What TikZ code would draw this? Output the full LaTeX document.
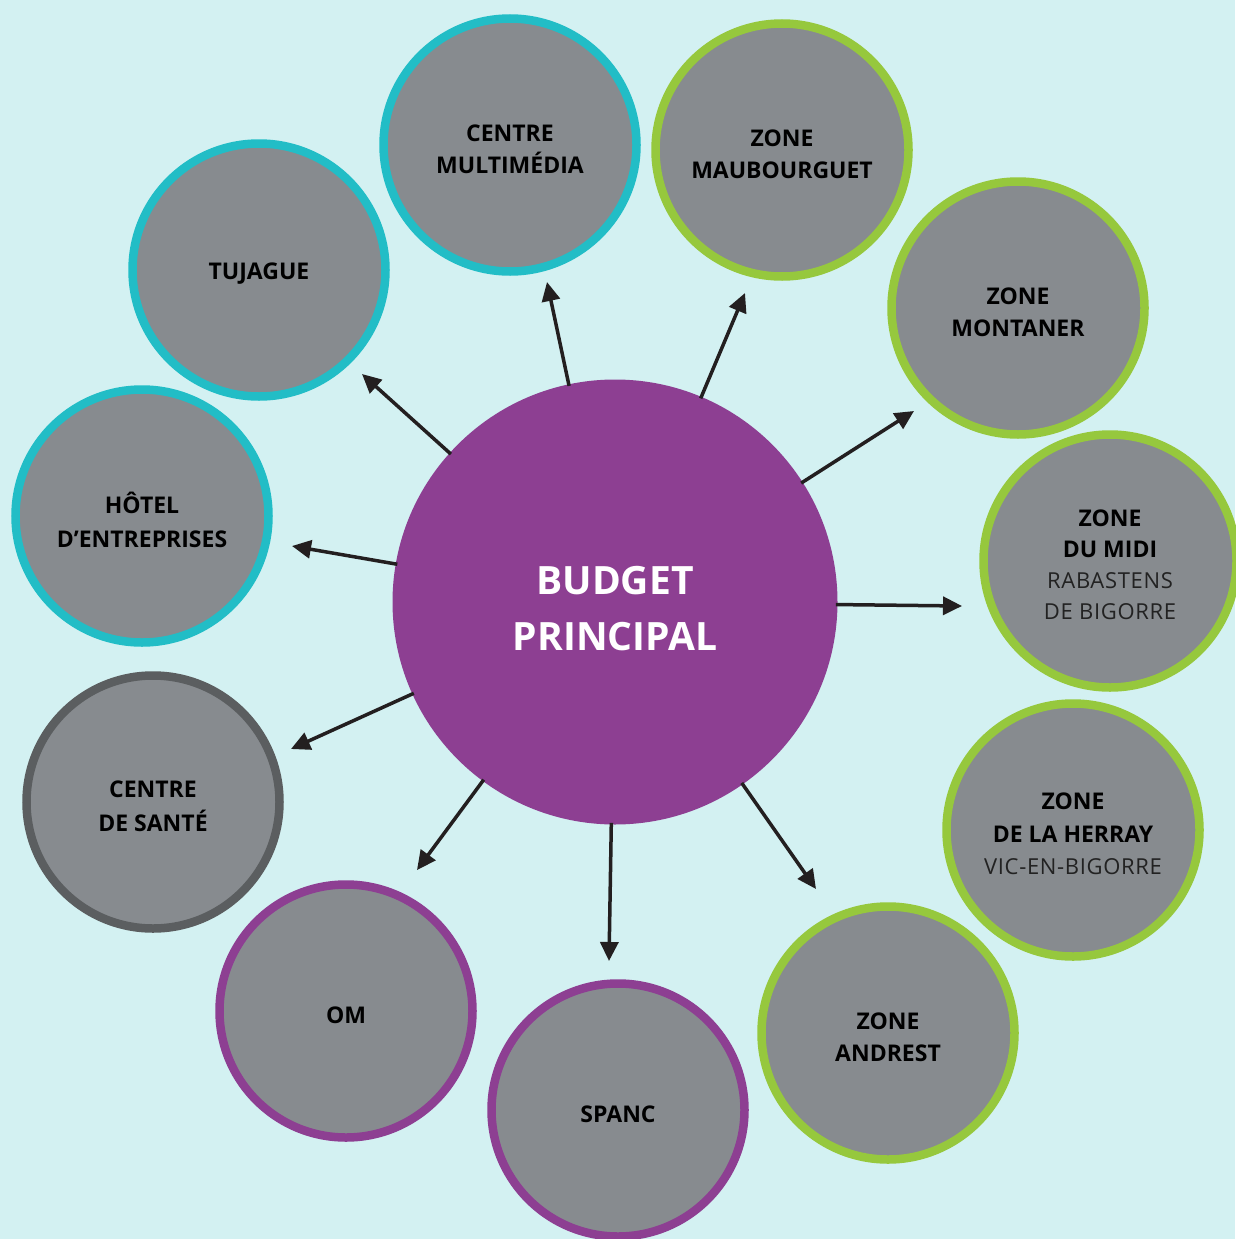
\documentclass[tikz,border=0pt]{standalone}
\usepackage{fontspec}
\setmainfont{Open Sans}
\usepackage{tikz}
\usetikzlibrary{arrows.meta}

\begin{document}
\begin{tikzpicture}[x=1pt,y=-1pt,line cap=rect,
		bubble/.style={circle, minimum size=253pt, inner sep=0, line width=8.5pt, fill=custcol_87_8b_8f},
		bubbletext/.style={inner sep=0, text=black, align=center, yshift=-4pt, font=\bfseries\fontsize{23pt}{32pt}\selectfont},
		link/.style={line width=3.5pt, custcol_23_1f_20, -{Triangle[length=19pt,width=18pt]}}]
				\def\bubblefontL#1{{\mdseries\fontsize{22pt}{31pt}\selectfont\addfontfeatures{LetterSpace=3}\color{custcol_22_22_22}#1}}
				\definecolor{custcol_d3_f1_f2}{RGB}{211, 241, 242}
				\definecolor{custcol_87_8b_8f}{RGB}{135, 139, 143}
				\definecolor{custcol_8d_3f_92}{RGB}{141, 63, 146}
				\definecolor{custcol_22_bd_c6}{RGB}{34, 189, 198}
				\definecolor{custcol_96_c8_3d}{RGB}{150, 200, 61}
				\definecolor{custcol_5b_5e_60}{RGB}{91, 94, 96}
				\definecolor{custcol_23_1f_20}{RGB}{35, 31, 32}
				\definecolor{custcol_22_22_22}{RGB}{34, 34, 34}
				\fill [custcol_d3_f1_f2] (0,0) rectangle (1235,1239);
				\useasboundingbox (0,0) rectangle (1235,1239);
				% centre
				\node[circle, minimum size=445pt, inner sep=0, fill=custcol_8d_3f_92,
					label={[bubbletext, yshift=-3pt, text=white, font=\bfseries\fontsize{39pt}{56pt}\selectfont]center:BUDGET\\PRINCIPAL}] (budget) at (615.0,602.0) {};
				% bulles
				\node[bubble, draw=custcol_22_bd_c6, label={[bubbletext]center:TUJAGUE}] (tujague) at (259.0,270.0) {};
				\node[bubble, draw=custcol_22_bd_c6, label={[bubbletext]center:CENTRE\\MULTIMÉDIA}] (multimedia) at (510.0,145.0) {};
				\node[bubble, draw=custcol_96_c8_3d, label={[bubbletext]center:ZONE\\MAUBOURGUET}] (maubourguet) at (782.0,150.0) {};
				\node[bubble, draw=custcol_96_c8_3d, label={[bubbletext]center:ZONE\\MONTANER}] (montaner) at (1018.0,308.0) {};
				\node[bubble, draw=custcol_96_c8_3d, label={[bubbletext]center:ZONE\\[-1pt]DU MIDI\\[-1pt]\bubblefontL{RABASTENS}\\[-1pt]\bubblefontL{DE BIGORRE}}] (midi) at (1110.0,561.0) {};
				\node[bubble, draw=custcol_96_c8_3d, label={[bubbletext]center:ZONE\\[1pt]DE LA HERRAY\\\bubblefontL{VIC-EN-BIGORRE}}] (herray) at (1073.0,830.0) {};
				\node[bubble, draw=custcol_96_c8_3d, label={[bubbletext]center:ZONE\\ANDREST}] (andrest) at (888.0,1033.0) {};
				\node[bubble, draw=custcol_8d_3f_92, label={[bubbletext]center:SPANC}] (spanc) at (618.0,1110.0) {};
				\node[bubble, draw=custcol_8d_3f_92, label={[bubbletext]center:OM}] (om) at (346.0,1011.0) {};
				\node[bubble, draw=custcol_5b_5e_60, label={[bubbletext]center:CENTRE\\[2pt]DE SANTÉ}] (sante) at (153.0,802.0) {};
				\node[bubble, draw=custcol_22_bd_c6, label={[bubbletext]center:HÔTEL\\[2pt]D’ENTREPRISES}] (hotel) at (142.0,516.0) {};
				% fleches
				\coordinate (tujague-end) at (362.0,374.0);
				\coordinate (multimedia-end) at (547.0,282.0);
				\coordinate (maubourguet-end) at (745.0,293.0);
				\coordinate (montaner-end) at (914.0,411.0);
				\coordinate (midi-end) at (962.0,606.0);
				\coordinate (andrest-end) at (816.0,889.0);
				\coordinate (spanc-end) at (609.0,961.0);
				\coordinate (om-end) at (417.0,870.0);
				\coordinate (sante-end) at (291.0,749.0);
				\coordinate (hotel-end) at (292.0,546.0);
				\draw [link] (budget) -- (tujague-end);
				\draw [link] (budget) -- (multimedia-end);
				\draw [link] (budget) -- (maubourguet-end);
				\draw [link] (budget) -- (montaner-end);
				\draw [link] (budget) -- (midi-end);
				\draw [link] (budget) -- (andrest-end);
				\draw [link] (budget) -- (spanc-end);
				\draw [link] (budget) -- (om-end);
				\draw [link] (budget) -- (sante-end);
				\draw [link] (budget) -- (hotel-end);
			\end{tikzpicture}
\end{document}
